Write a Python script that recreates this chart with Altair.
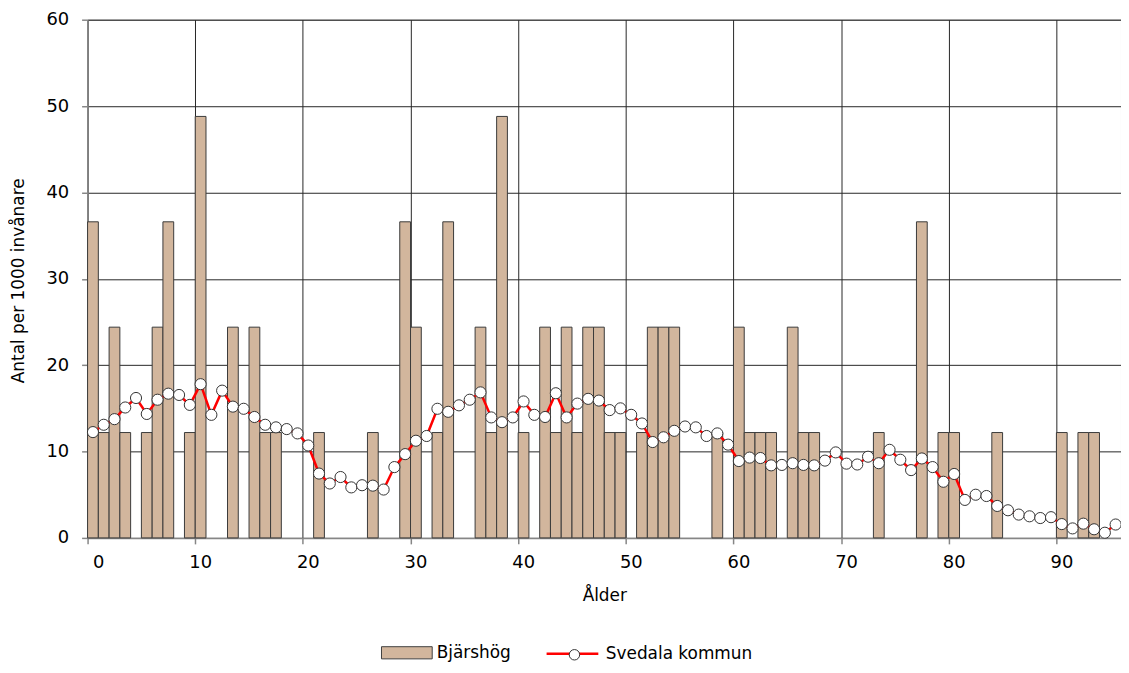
import altair as alt
import pandas as pd

ages = list(range(96))

bjarshog = [
    36.6, 12.2, 24.4, 12.2, 0, 12.2, 24.4, 36.6, 0, 12.2,
    48.8, 0, 0, 24.4, 0, 24.4, 12.2, 12.2, 0, 0,
    0, 12.2, 0, 0, 0, 0, 12.2, 0, 0, 36.6,
    24.4, 0, 12.2, 36.6, 0, 0, 24.4, 12.2, 48.8, 0,
    12.2, 0, 24.4, 12.2, 24.4, 12.2, 24.4, 24.4, 12.2, 12.2,
    0, 12.2, 24.4, 24.4, 24.4, 0, 0, 0, 12.2, 0,
    24.4, 12.2, 12.2, 12.2, 0, 24.4, 12.2, 12.2, 0, 0,
    0, 0, 0, 12.2, 0, 0, 0, 36.6, 0, 12.2,
    12.2, 0, 0, 0, 12.2, 0, 0, 0, 0, 0,
    12.2, 0, 12.2, 12.2, 0, 0,
]

svedala = [
    12.25, 13.1, 13.75, 15.1, 16.2, 14.35, 16.0, 16.7, 16.55, 15.4,
    17.8, 14.25, 17.05, 15.2, 14.95, 14.0, 13.1, 12.8, 12.6, 12.1,
    10.7, 7.45, 6.3, 7.05, 5.85, 6.1, 6.05, 5.6, 8.2, 9.7,
    11.25, 11.8, 14.95, 14.6, 15.35, 16.0, 16.85, 13.95, 13.4, 13.95,
    15.8, 14.25, 14.0, 16.75, 13.95, 15.55, 16.1, 15.9, 14.8, 15.0,
    14.25, 13.25, 11.1, 11.65, 12.4, 12.9, 12.8, 11.8, 12.1, 10.8,
    8.9, 9.3, 9.25, 8.4, 8.45, 8.65, 8.45, 8.4, 8.95, 9.9,
    8.6, 8.5, 9.4, 8.65, 10.2, 9.05, 7.85, 9.2, 8.2, 6.5,
    7.4, 4.4, 5.0, 4.85, 3.7, 3.2, 2.7, 2.5, 2.3, 2.4,
    1.6, 1.1, 1.65, 1.0, 0.6, 1.55,
]

x_ticks = [0, 10, 20, 30, 40, 50, 60, 70, 80, 90]
y_ticks = [0, 10, 20, 30, 40, 50, 60]

FONT = "DejaVu Sans"
GRID = "#262626"
AXIS = "#868686"

df = pd.DataFrame({
    "age": ages,
    "age_end": [a + 1 for a in ages],
    "mid": [a + 0.5 for a in ages],
    "bj": bjarshog,
    "sv": svedala,
    "s_bar": "Bjärshög",
    "s_line": "Svedala kommun",
    "s_pt": "Svedala kommun",
})

x_scale = alt.Scale(domain=[0, 96], nice=False, zero=False)
y_scale = alt.Scale(domain=[0, 60], nice=False)

x_axis = alt.Axis(
    values=x_ticks, title="Ålder", grid=True, gridColor=GRID, gridWidth=1,
    domainColor=AXIS, domainWidth=1.5, tickColor=AXIS, tickWidth=1.5, tickSize=6,
    labelOffset=5, labelPadding=10, labelFontSize=18, labelFont=FONT, labelColor="black",
    titleFont=FONT, titleFontSize=17, titleFontWeight="normal", titleColor="black",
    titleY=58, titleBaseline="middle",
)
y_axis = alt.Axis(
    values=y_ticks, title="Antal per 1000 invånare", grid=True, gridColor=GRID, gridWidth=1,
    domainColor=AXIS, domainWidth=1.5, tickColor=AXIS, tickWidth=1.5, tickSize=6,
    labelPadding=13, labelFontSize=18, labelFont=FONT, labelColor="black",
    titleFont=FONT, titleFontSize=17, titleFontWeight="normal", titleColor="black",
    titleX=-69, titleY=262, titleBaseline="middle", titleAngle=270,
)

LEG_C = 636  # legend row centre, relative to plot top

base = alt.Chart(df)

bars = base.transform_filter("datum.bj > 0").mark_bar(
    stroke="#3a3a3a", strokeWidth=1
).encode(
    x=alt.X("age:Q", scale=x_scale, axis=x_axis),
    x2="age_end:Q",
    y=alt.Y("bj:Q", scale=y_scale, axis=y_axis),
    y2=alt.datum(0),
    fill=alt.Fill(
        "s_bar:N",
        scale=alt.Scale(range=["#D2B69D"]),
        legend=alt.Legend(
            orient="none", legendX=295, legendY=LEG_C - 25.5, title=None, padding=0,
            symbolType="M-1,-0.24H1V0.24H-1Z", symbolSize=2601,
            symbolStrokeColor="#404040", symbolStrokeWidth=1,
            labelFontSize=17, labelFont=FONT, labelColor="black", labelOffset=4,
        ),
    ),
)

line = base.mark_line(strokeWidth=2.5).encode(
    x=alt.X("mid:Q", scale=x_scale, axis=x_axis),
    y=alt.Y("sv:Q", scale=y_scale, axis=y_axis),
    stroke=alt.Stroke(
        "s_line:N",
        scale=alt.Scale(range=["#FF0000"]),
        legend=alt.Legend(
            orient="none", legendX=460, legendY=LEG_C - 26, title=None, padding=0,
            symbolType="stroke", symbolSize=2704, symbolStrokeWidth=2.5,
            labelFontSize=17, labelFont=FONT, labelColor="black", labelOffset=6,
        ),
    ),
)

points = base.mark_point(
    filled=False, fill="white", strokeWidth=1, size=125,
    opacity=1, fillOpacity=1,
).encode(
    x=alt.X("mid:Q", scale=x_scale, axis=x_axis),
    y=alt.Y("sv:Q", scale=y_scale, axis=y_axis),
    color=alt.Color(
        "s_pt:N",
        scale=alt.Scale(range=["#333333"]),
        legend=alt.Legend(
            orient="none", legendX=481.5, legendY=LEG_C - 5.5, title=None, padding=0,
            symbolType="circle", symbolSize=110, symbolFillColor="white",
            symbolStrokeWidth=1, symbolOpacity=1, labelExpr="''", labelFontSize=16,
        ),
    ),
)

chart = alt.layer(bars, line, points).resolve_legend(
    fill="independent", stroke="independent", color="independent"
).properties(
    width=1039,
    height=521,
    autosize=alt.AutoSizeParams(type="none"),
    padding={"left": 80, "top": 10, "right": 0, "bottom": 123},
).configure_view(stroke="#7f7f7f", strokeWidth=1)

chart.save("out.html", embed_options={"renderer": "svg", "actions": False})
